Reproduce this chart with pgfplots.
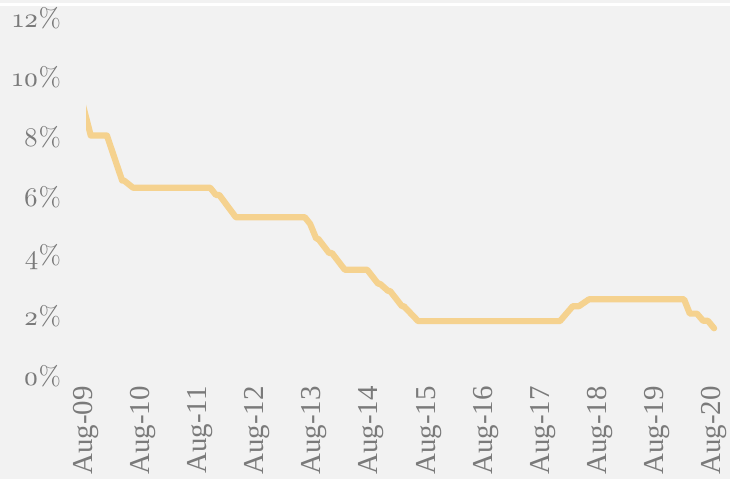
\documentclass[border=0pt]{standalone}
\usepackage{fontspec}
\setmainfont{Liberation Serif}
\newfontfamily\yfont{lmroman10-regular.otf}[Numbers=OldStyle]
\usepackage{pgfplots}
\pgfplotsset{compat=1.18}
\definecolor{bg}{HTML}{F2F2F2}
\definecolor{lbl}{HTML}{7A7A7A}
\definecolor{rate}{HTML}{F5D28F}
\begin{document}
\begin{tikzpicture}
\fill[bg] (0bp,0bp) rectangle (365bp,239.5bp);
\fill[white] (0bp,236.6bp) rectangle (365bp,237.8bp);
\begin{axis}[
    at={(43bp,51.5bp)}, anchor=south west,
    scale only axis, width=318.8bp, height=179bp,
    xmin=0, xmax=134, ymin=0, ymax=12,
    axis line style={draw=none},
    tick style={draw=none},
    major tick length=0pt,
    xtick={0,12,...,132},
    xticklabels={Aug-09,Aug-10,Aug-11,Aug-12,Aug-13,Aug-14,Aug-15,Aug-16,Aug-17,Aug-18,Aug-19,Aug-20},
    ytick={0,2,...,12},
    yticklabels={0\%,2\%,4\%,6\%,8\%,10\%,12\%},
    xticklabel style={font=\fontsize{14.5}{15}\selectfont, text=lbl,
        rotate=90, anchor=east, inner sep=0pt, xshift=3bp},
    xticklabel shift=8bp,
    yticklabel style={font=\yfont\fontsize{13.5}{14}\selectfont, text=lbl,
        anchor=east, inner sep=0pt},
    yticklabel shift=12.3bp,
]
\addplot[rate, line width=3.1bp, line join=round, line cap=round] coordinates {
    (-1,9.3) (1,8.06) (4.4,8.06) (7.6,6.55) (8,6.55) (9.9,6.31)
    (26.1,6.31) (27.3,6.07) (28,6.07) (31.5,5.32) (46,5.32) (47.1,5.1)
    (48.4,4.60) (48.8,4.60) (51.1,4.12) (51.7,4.12) (54.4,3.56) (59.1,3.56)
    (61.4,3.09) (61.8,3.09) (63.5,2.85) (63.9,2.85) (66.4,2.34) (66.8,2.34)
    (69.8,1.84) (99.6,1.84) (102.3,2.34) (103.6,2.34) (105.7,2.57)
    (125.7,2.57) (126.9,2.09) (128.4,2.09) (129.7,1.85) (130.7,1.85) (132,1.6)
};
\end{axis}
\pgfresetboundingbox
\path (0bp,0bp) rectangle (365bp,239.5bp);
\end{tikzpicture}
\end{document}
